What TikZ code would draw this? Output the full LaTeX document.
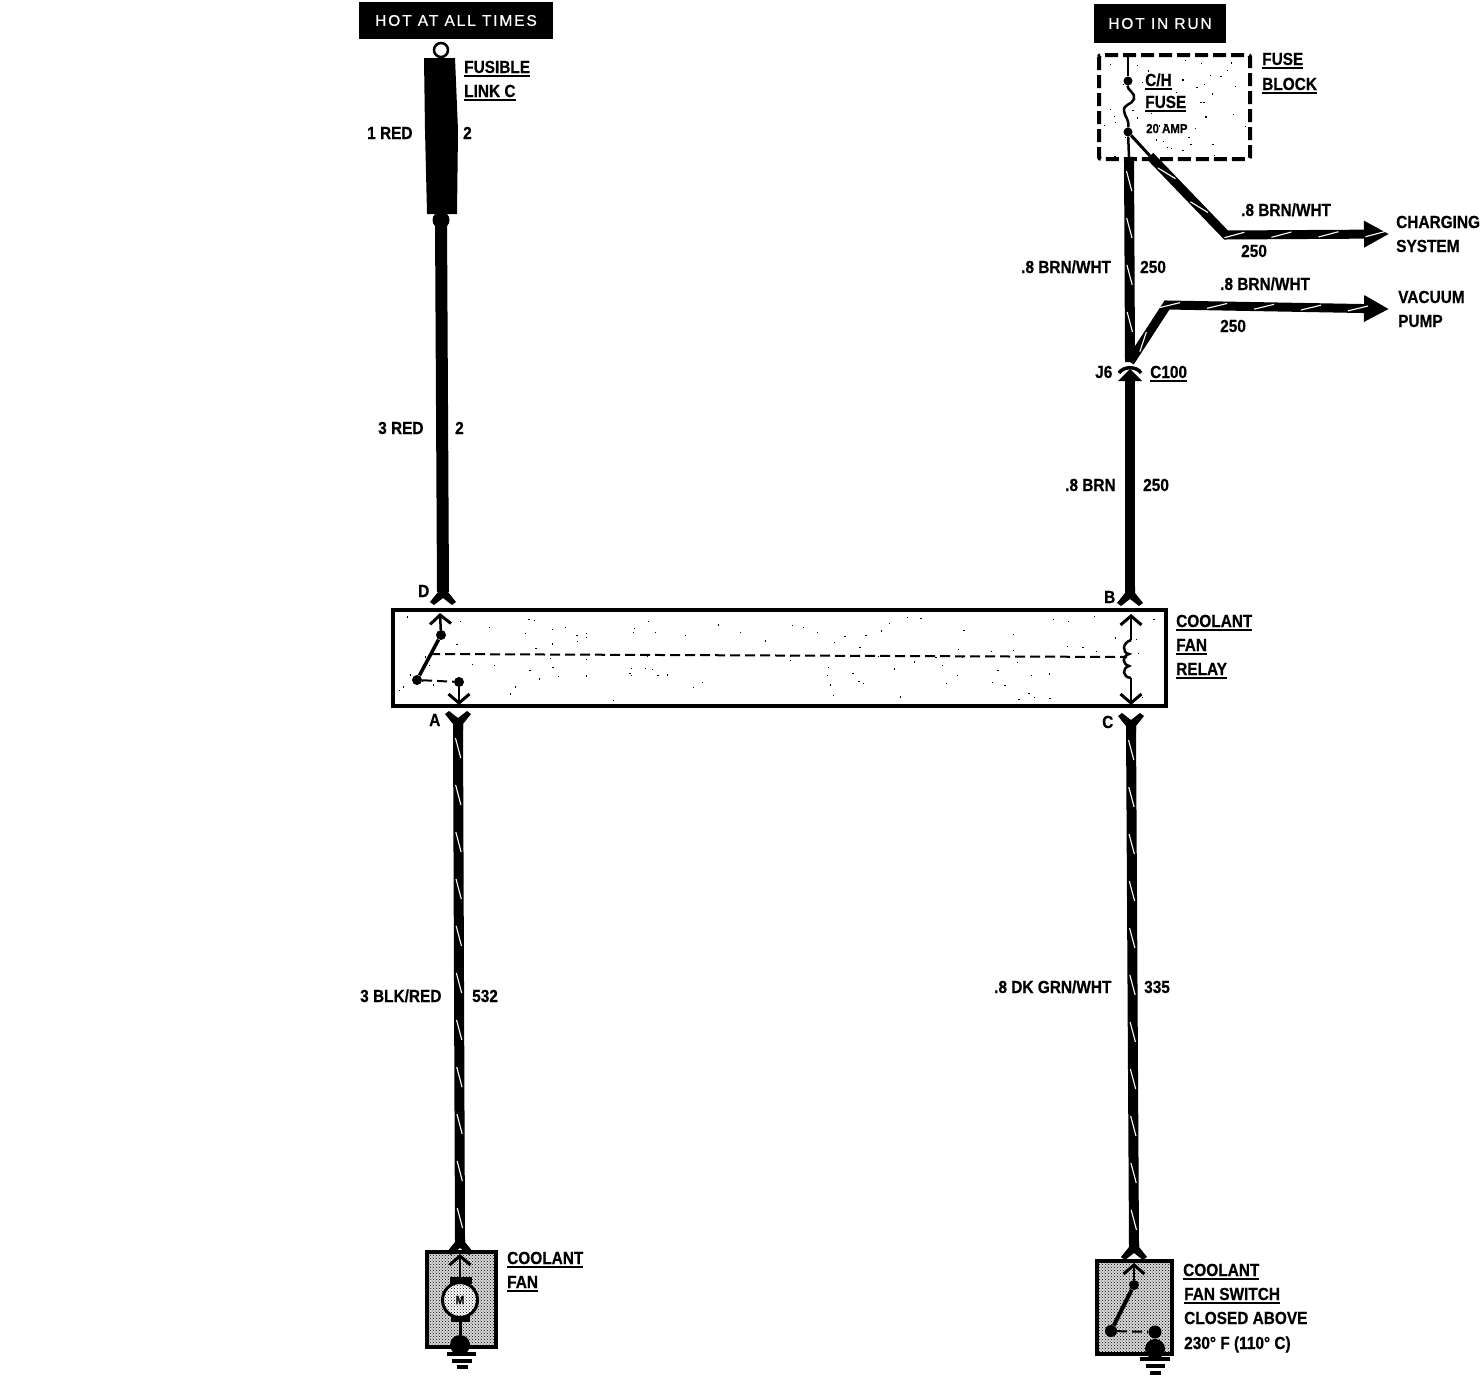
\documentclass[tikz,border=0pt]{standalone}
\usepackage{fontspec}
\setmainfont{Liberation Sans}
\newfontfamily\lblfont{Liberation Sans}[FakeStretch=0.88,BoldFeatures={FakeBold=0.6,FakeStretch=0.88}]
\newfontfamily\hotfont{Liberation Sans}[LetterSpace=12,FakeBold=0.7]
\usetikzlibrary{arrows.meta,patterns,decorations.markings}

\newcommand{\ulbl}[1]{\vtop{\hbox{#1}\kern1.5pt\hrule height 2.6pt}}

\tikzset{
  lbl/.style={font=\lblfont\fontsize{17.5}{18}\selectfont\bfseries,anchor=base west,inner sep=0pt},
  hotbox/.style={fill=black,text=white,font=\hotfont\fontsize{15.5}{16}\selectfont,inner sep=0pt},
  term/.style={circle,fill=black,inner sep=0pt,minimum size=#1},
  term/.default=10pt,
  wire/.style={line width=10pt},
  stripe/.style={postaction={decorate,decoration={markings,
      mark=between positions 24pt and -10pt step 47pt with
      {\draw[-,white,line width=1.1pt] (-10pt,-2.6pt) -- (10pt,2.6pt);}}}},
  thinline/.style={line width=2.5pt},
  barb/.style={thinline,-{Straight Barb[length=9pt,width=21pt,line width=3pt]}},
  dashline/.style={line width=2pt,dash pattern=on 10pt off 5pt},
  bigtip/.style={-{Triangle[length=25pt,width=25pt]}},
  casebox/.style={line width=4.5pt,pattern=crosshatch dots,preaction={fill=gray!30}},
  groundbar/.style={line width=3.5pt},
  flare/.pic={
    \fill (-5,-9) -- (5,-9) -- (5,-3) -- (13,7) -- (9,10) -- (0,3) -- (-9,10) -- (-13,7) -- (-5,-3) -- cycle;
  }
}

\begin{document}
\begin{tikzpicture}[x=1pt,y=-1pt]
    \useasboundingbox (0,0) rectangle (1482,1392);

% Power feeds
    \node[hotbox,minimum width=194pt,minimum height=37pt] (hotall) at (456,20.5) {HOT AT ALL TIMES};
    \node[hotbox,minimum width=132pt,minimum height=39pt] (hotrun) at (1160,23.5) {HOT IN RUN};

% Relay box
    \draw[line width=4pt,fill=white] (393,610) rectangle (1166,706);
    \pgfmathsetseed{11}
    \foreach \i in {1,...,110} {
        \pgfmathsetmacro{\dotx}{398+763*rnd}
        \pgfmathsetmacro{\doty}{615+86*rnd}
        \fill (\dotx,\doty) rectangle +(1.2,1.2);
    }
    \draw[line width=4pt] (393,610) rectangle (1166,706);

% Fuse block
    \pgfmathsetseed{5}
    \foreach \i in {1,...,50} {
        \pgfmathsetmacro{\dotx}{1102+144*rnd}
        \pgfmathsetmacro{\doty}{59+97*rnd}
        \fill (\dotx,\doty) rectangle +(1.2,1.2);
    }
    \draw[line width=4pt,dash pattern=on 13pt off 5pt,rounded corners=2pt] (1099,55) rectangle (1250,159);

% Fusible link
    \node[circle,draw,line width=2.5pt,fill=white,inner sep=0pt,minimum size=14pt] (linktop) at (441,50) {};
    \fill (424,58) -- (455,58) -- (458,130) -- (457,214) -- (427,214) -- (425,130) -- cycle;
    \node[term=17pt] (linkend) at (441,220) {};
    \coordinate (pinD) at (443,592);
    \draw[line width=12pt] (linkend.center) -- (pinD);
    \pic at (443,595) {flare};
    \node[lbl] (linklbla) at (464,73) {\ulbl{FUSIBLE}};
    \node[lbl] (linklblb) at (464,97) {\ulbl{LINK C}};
    \node[lbl] (gaugea) at (367,139) {1 RED};
    \node[lbl] (circa) at (463,139) {2};
    \node[lbl] (gaugeb) at (378,434) {3 RED};
    \node[lbl] (circb) at (455,434) {2};
    \node[lbl] (pinDlbl) at (418,597) {D};

% Relay contacts
    \node[term] (contop) at (441,635) {};
    \node[term] (conpivot) at (417,680) {};
    \node[term] (conlow) at (459,682) {};
    \coordinate (relaytopl) at (440,613);
    \coordinate (relaylowl) at (459,705);
    \coordinate (armmid) at (430,654);
    \coordinate (coilmid) at (1127,657);
    \draw[barb] (contop) -- (relaytopl);
    \draw[line width=3.5pt] (contop) -- (conpivot);
    \draw[dashline] (conpivot) -- (conlow);
    \draw[barb] (conlow) -- (relaylowl);
    \draw[dashline] (armmid) -- (coilmid);

% Relay coil
    \coordinate (relaytopr) at (1131,614);
    \coordinate (relaylowr) at (1131,705);
    \coordinate (coiltop) at (1131,640);
    \coordinate (coillow) at (1131,678);
    \draw[barb] (coiltop) -- (relaytopr);
    \draw[barb] (coillow) -- (relaylowr);
    \draw[thinline] (coiltop) .. controls (1122,643) and (1122,653) .. (1129,654)
        .. controls (1122,656) and (1122,664) .. (1129,666)
        .. controls (1122,668) and (1122,677) .. (coillow);
    \node[lbl] (relaylbla) at (1176,627) {\ulbl{COOLANT}};
    \node[lbl] (relaylblb) at (1176,651) {\ulbl{FAN}};
    \node[lbl] (relaylblc) at (1176,675) {\ulbl{RELAY}};

% Hot in run side
    \node[term=9pt] (fusetop) at (1128,81) {};
    \node[term=9pt] (fuselow) at (1128,132) {};
    \coordinate (blocktop) at (1128,56);
    \coordinate (blocklow) at (1129,157);
    \coordinate (splice) at (1130,362);
    \draw[thinline] (blocktop) -- (fusetop);
    \draw[thinline] (fusetop) .. controls (1127,90) and (1136,93) .. (1134,99)
        .. controls (1132,105) and (1123,104) .. (1124,111)
        .. controls (1125,118) and (1129,118) .. (fuselow);
    \draw[thinline] (fuselow) -- (blocklow);
    \draw[wire,stripe] (blocklow) -- (splice);
    \node[lbl,font=\lblfont\fontsize{13}{13}\selectfont\bfseries] (fuseamp) at (1146,133) {20 AMP};
    \node[lbl] (fuselbla) at (1145,86) {\ulbl{C/H}};
    \node[lbl] (fuselblb) at (1145,108) {\ulbl{FUSE}};
    \node[lbl] (blocklbla) at (1262,65) {\ulbl{FUSE}};
    \node[lbl] (blocklblb) at (1262,90) {\ulbl{BLOCK}};

% Branch to charging system
    \coordinate (chgstart) at (1150,156);
    \coordinate (chgbend) at (1226,235);
    \coordinate (chgend) at (1389,234);
    \draw[line width=3pt] (fuselow) -- (chgstart);
    \draw[line width=9pt,bigtip,stripe] (chgstart) -- (chgbend) -- (chgend);
    \node[lbl] (chggauge) at (1241,216) {.8 BRN/WHT};
    \node[lbl] (chgcirc) at (1241,257) {250};
    \node[lbl] (chglbla) at (1396,228) {CHARGING};
    \node[lbl] (chglblb) at (1396,252) {SYSTEM};

% Branch to vacuum pump
    \coordinate (vacbend) at (1167,305);
    \coordinate (vacend) at (1389,309);
    \draw[line width=9pt,bigtip,stripe] (splice) -- (vacbend) -- (vacend);
    \node[lbl] (vacgauge) at (1220,290) {.8 BRN/WHT};
    \node[lbl] (vaccirc) at (1220,332) {250};
    \node[lbl] (vaclbla) at (1398,303) {VACUUM};
    \node[lbl] (vaclblb) at (1398,327) {PUMP};
    \node[lbl] (maingauge) at (1021,273) {.8 BRN/WHT};
    \node[lbl] (maincirc) at (1140,273) {250};

% Connector C100
    \coordinate (conntop) at (1130,380);
    \coordinate (pinB) at (1130,592);
    \draw[line width=3.5pt] (1119,373) .. controls (1123,366) and (1137,366) .. (1141,373);
    \fill (1130,369) -- (1142,381) -- (1118,381) -- cycle;
    \draw[wire] (conntop) -- (pinB);
    \pic at (1130,596) {flare};
    \node[lbl] (connlbl) at (1095,378) {J6};
    \node[lbl] (connname) at (1150,378) {\ulbl{C100}};
    \node[lbl] (lowgauge) at (1065,491) {.8 BRN};
    \node[lbl] (lowcirc) at (1143,491) {250};
    \node[lbl] (pinBlbl) at (1104,603) {B};

% Wire to coolant fan
    \coordinate (pinA) at (458,724);
    \coordinate (fanpin) at (460,1242);
    \pic[yscale=-1] at (458,721) {flare};
    \draw[wire,stripe] (pinA) -- (fanpin);
    \node[lbl] (pinAlbl) at (429,726) {A};
    \node[lbl] (fangauge) at (360,1002) {3 BLK/RED};
    \node[lbl] (fancirc) at (472,1002) {532};

% Wire to fan switch
    \coordinate (pinC) at (1131,726);
    \coordinate (swpin) at (1134,1247);
    \pic[yscale=-1] at (1131,723) {flare};
    \draw[wire,stripe] (pinC) -- (swpin);
    \node[lbl] (pinClbl) at (1102,728) {C};
    \node[lbl] (swgauge) at (994,993) {.8 DK GRN/WHT};
    \node[lbl] (swcirc) at (1144,993) {335};

% Coolant fan
    \draw[casebox] (427,1252) rectangle (496,1347);
    \pic at (460,1245) {flare};
    \node[circle,draw,line width=3pt,pattern=crosshatch dots,preaction={fill=white},inner sep=0pt,minimum size=35pt] (motor) at (460,1300) {};
    \node[lbl,anchor=center,font=\lblfont\fontsize{12}{12}\selectfont\bfseries] (motorlbl) at (460,1300) {M};
    \fill (450,1277) rectangle (472,1284);
    \fill (451,1316) rectangle (470,1322);
    \coordinate (fantip) at (460,1254);
    \coordinate (fanfoot) at (460,1279);
    \node[term=20pt] (fangnd) at (460,1345) {};
    \draw[barb] (fanfoot) -- (fantip);
    \draw[line width=3pt] (motor) -- (fangnd);
    \draw[groundbar] (447,1354) -- (476,1354);
    \draw[groundbar] (452,1361) -- (472,1361);
    \draw[groundbar] (457,1367) -- (468,1367);
    \node[lbl] (fanlbla) at (507,1264) {\ulbl{COOLANT}};
    \node[lbl] (fanlblb) at (507,1288) {\ulbl{FAN}};

% Coolant fan switch
    \draw[casebox] (1097,1261) rectangle (1172,1354);
    \pic at (1134,1250) {flare};
    \node[term] (swtop) at (1134,1285) {};
    \node[term=12pt] (swpivot) at (1111,1331) {};
    \node[term=13pt] (swlow) at (1155,1332) {};
    \node[term=20pt] (swgnd) at (1155,1349) {};
    \coordinate (swtip) at (1134,1263);
    \draw[barb] (swtop) -- (swtip);
    \draw[line width=4pt] (swtop) -- (swpivot);
    \draw[dashline] (swpivot) -- (swlow);
    \draw[line width=3pt] (swlow) -- (swgnd);
    \draw[groundbar] (1140,1359) -- (1170,1359);
    \draw[groundbar] (1146,1366) -- (1165,1366);
    \draw[groundbar] (1150,1373) -- (1161,1373);
    \node[lbl] (swlbla) at (1183,1276) {\ulbl{COOLANT}};
    \node[lbl] (swlblb) at (1184,1300) {\ulbl{FAN SWITCH}};
    \node[lbl] (swlblc) at (1184,1324) {CLOSED ABOVE};
    \node[lbl] (swlbld) at (1184,1349) {230° F (110° C)};

\end{tikzpicture}
\end{document}
